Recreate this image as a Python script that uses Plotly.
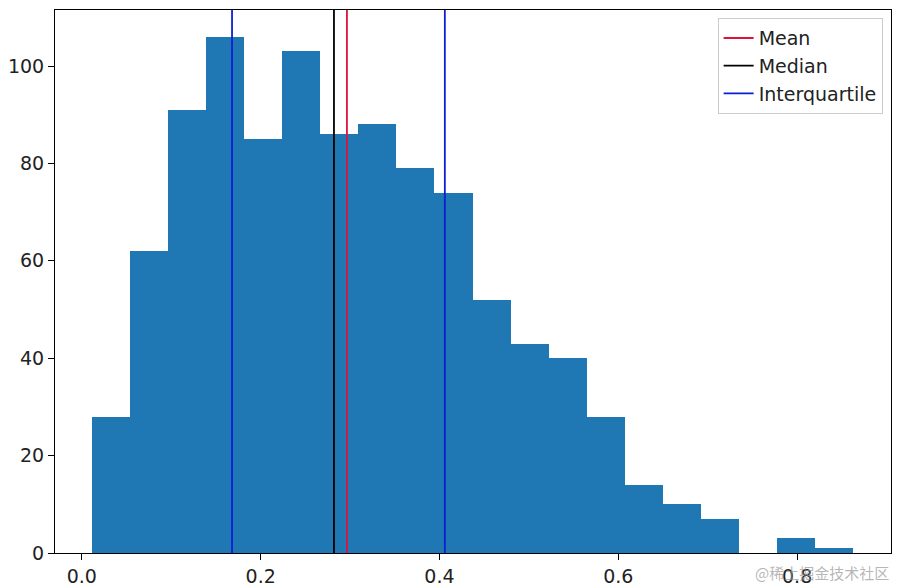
import plotly.graph_objects as go
import numpy as np

# histogram
bin_start = 0.011
bin_width = 0.0426
counts = [28, 62, 91, 106, 85, 103, 86, 88, 79, 74, 52, 43, 40, 28, 14, 10, 7, 0, 3, 1]
mean_val = 0.2965
median_val = 0.282
q1_val, q3_val = 0.168, 0.406

centers = bin_start + bin_width * (np.arange(len(counts)) + 0.5)

fig = go.Figure()
fig.add_trace(go.Bar(x=centers, y=counts, width=bin_width, marker=dict(color="#1f77b4", line_width=0),
                     showlegend=False))

ymax = 111.5
def vline(x, color, name, show=True):
    fig.add_trace(go.Scatter(x=[x, x], y=[0, ymax], mode="lines", line=dict(color=color, width=1.8),
                             name=name, showlegend=show))

vline(mean_val, "crimson", "Mean")
vline(median_val, "black", "Median")
vline(q1_val, "#0a1fd6", "Interquartile")
vline(q3_val, "#0a1fd6", "Interquartile", show=False)

axis_common = dict(showgrid=False, zeroline=False, showline=True, linecolor="black", mirror=True,
                   ticks="outside", ticklen=6, tickcolor="black", automargin=False,
                   tickfont=dict(size=19, color="#222"))
fig.update_layout(
    width=902, height=586, plot_bgcolor="white", paper_bgcolor="white",
    margin=dict(l=55, r=11, t=10, b=33, autoexpand=False),
    font=dict(family="DejaVu Sans"),
    bargap=0,
    xaxis=dict(range=[-0.030, 0.905], tickvals=[0, 0.2, 0.4, 0.6, 0.8],
               ticktext=["0.0", "0.2", "0.4", "0.6", "0.8"], **axis_common),
    yaxis=dict(range=[0, ymax], tickvals=[0, 20, 40, 60, 80, 100], **axis_common),
    legend=dict(x=0.99, y=0.985, xanchor="right", yanchor="top", bordercolor="#ccc", borderwidth=1,
                font=dict(size=19, color="#222"), bgcolor="rgba(255,255,255,0.8)"),
)
fig.add_annotation(text="@稀土掘金技术社区", xref="paper", yref="paper", x=1.0, y=-0.012,
                   xanchor="right", yanchor="top", showarrow=False,
                   font=dict(size=15, color="rgba(150,150,150,0.7)", family="Noto Sans CJK SC"))
fig.write_html("out.html", config={"displayModeBar": False})

# drop the default body margin so the figure sits at the page corner
with open("out.html", encoding="utf-8") as f:
    html = f.read()
html = html.replace("<body>", '<body style="margin:0;overflow:hidden">', 1)
with open("out.html", "w", encoding="utf-8") as f:
    f.write(html)
